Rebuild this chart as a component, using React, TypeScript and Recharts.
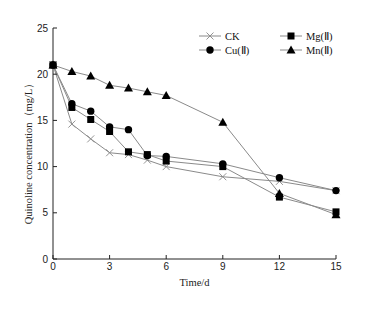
import { LineChart, Line, XAxis, YAxis, Label } from 'recharts';

const days = [0, 1, 2, 3, 4, 5, 6, 9, 12, 15];
const ck = [21.0, 14.6, 13.0, 11.5, 11.3, 10.7, 10.0, 8.9, 8.4, 7.4];
const mg = [21.0, 16.4, 15.1, 13.8, 11.6, 11.3, 10.6, 10.0, 6.7, 5.1];
const cu = [21.0, 16.8, 16.0, 14.3, 14.0, 11.2, 11.1, 10.3, 8.8, 7.4];
const mn = [21.0, 20.3, 19.8, 18.8, 18.5, 18.1, 17.7, 14.8, 7.1, 4.8];

const xTicks = [0, 3, 6, 9, 12, 15];
const yTicks = [0, 5, 10, 15, 20, 25];

const data = days.map((d, i) => ({ day: d, ck: ck[i], mg: mg[i], cu: cu[i], mn: mn[i] }));

const LINE = '#8a8a8a';
const MARK = '#000';
const SERIF = '"Liberation Serif", "Times New Roman", serif';
const SANS = '"Liberation Sans", Arial, sans-serif';

type Shape = 'cross' | 'square' | 'circle' | 'triangle';

function marker(shape: Shape, cx: number, cy: number, key?: string | number) {
  switch (shape) {
    case 'cross':
      return (
        <g key={key}>
          <line x1={cx - 3.5} y1={cy - 3.5} x2={cx + 3.5} y2={cy + 3.5} stroke="#888" strokeWidth={0.9} />
          <line x1={cx - 3.5} y1={cy + 3.5} x2={cx + 3.5} y2={cy - 3.5} stroke="#888" strokeWidth={0.9} />
        </g>
      );
    case 'square':
      return <rect key={key} x={cx - 3.5} y={cy - 3.5} width={7} height={7} fill={MARK} />;
    case 'circle':
      return <circle key={key} cx={cx} cy={cy} r={3.7} fill={MARK} />;
    case 'triangle':
      return <path key={key} d={`M${cx},${cy - 4.5}L${cx + 4.5},${cy + 3.5}L${cx - 4.5},${cy + 3.5}Z`} fill={MARK} />;
  }
}

const dotFor = (shape: Shape) => (props: any) => marker(shape, props.cx, props.cy, props.index);

const legendItems: { label: string; shape: Shape; x: number; y: number }[] = [
  { label: 'CK', shape: 'cross', x: 4, y: 11 },
  { label: 'Mg(Ⅱ)', shape: 'square', x: 85, y: 11 },
  { label: 'Cu(Ⅱ)', shape: 'circle', x: 4, y: 25 },
  { label: 'Mn(Ⅱ)', shape: 'triangle', x: 85, y: 25 },
];

function LegendBox() {
  return (
    <svg width={150} height={35} style={{ position: 'absolute', left: 195, top: 25 }}>
      {legendItems.map(it => (
        <g key={it.label}>
          <line x1={it.x} y1={it.y} x2={it.x + 22} y2={it.y} stroke={LINE} strokeWidth={1} />
          {marker(it.shape, it.x + 11, it.y)}
          <text x={it.x + 26} y={it.y + 3.5} fontFamily={SERIF} fontSize={10.5} fill="#111">
            {it.label}
          </text>
        </g>
      ))}
    </svg>
  );
}

// rotated y title, nudged a bit below the plot centre like the original
const YTitle = () => (
  <text
    x={28}
    y={151}
    transform="rotate(-90, 28, 151)"
    textAnchor="middle"
    dominantBaseline="central"
    fontFamily={SERIF}
    fontSize={10.5}
    fill="#222"
  >
    Quinoline concentration（mg/L）
  </text>
);

export default function App() {
  return (
    <div style={{ position: 'absolute', left: 0, top: 0, width: 368, height: 312, background: '#fff' }}>
      <LineChart width={368} height={312} data={data} margin={{ top: 28, right: 32, left: 0, bottom: 23 }}>
        <XAxis
          dataKey="day"
          type="number"
          domain={[0, 15]}
          ticks={xTicks}
          tickSize={-4}
          tickMargin={8}
          height={30}
          stroke="#222"
          tick={{ fill: '#222', fontSize: 10, fontFamily: SANS }}
        >
          <Label value="Time/d" position="insideBottom" offset={3} style={{ fontFamily: SERIF, fontSize: 10.5, fill: '#222' }} />
        </XAxis>
        <YAxis
          type="number"
          domain={[0, 25]}
          ticks={yTicks}
          tickSize={-4}
          tickMargin={9}
          width={53}
          stroke="#222"
          tick={{ fill: '#222', fontSize: 10, fontFamily: SANS }}
        >
          <Label content={YTitle} />
        </YAxis>
        <Line dataKey="ck" stroke={LINE} strokeWidth={1} dot={dotFor('cross')} activeDot={false} isAnimationActive={false} />
        <Line dataKey="mg" stroke={LINE} strokeWidth={1} dot={dotFor('square')} activeDot={false} isAnimationActive={false} />
        <Line dataKey="cu" stroke={LINE} strokeWidth={1} dot={dotFor('circle')} activeDot={false} isAnimationActive={false} />
        <Line dataKey="mn" stroke={LINE} strokeWidth={1} dot={dotFor('triangle')} activeDot={false} isAnimationActive={false} />
      </LineChart>
      <LegendBox />
    </div>
  );
}
